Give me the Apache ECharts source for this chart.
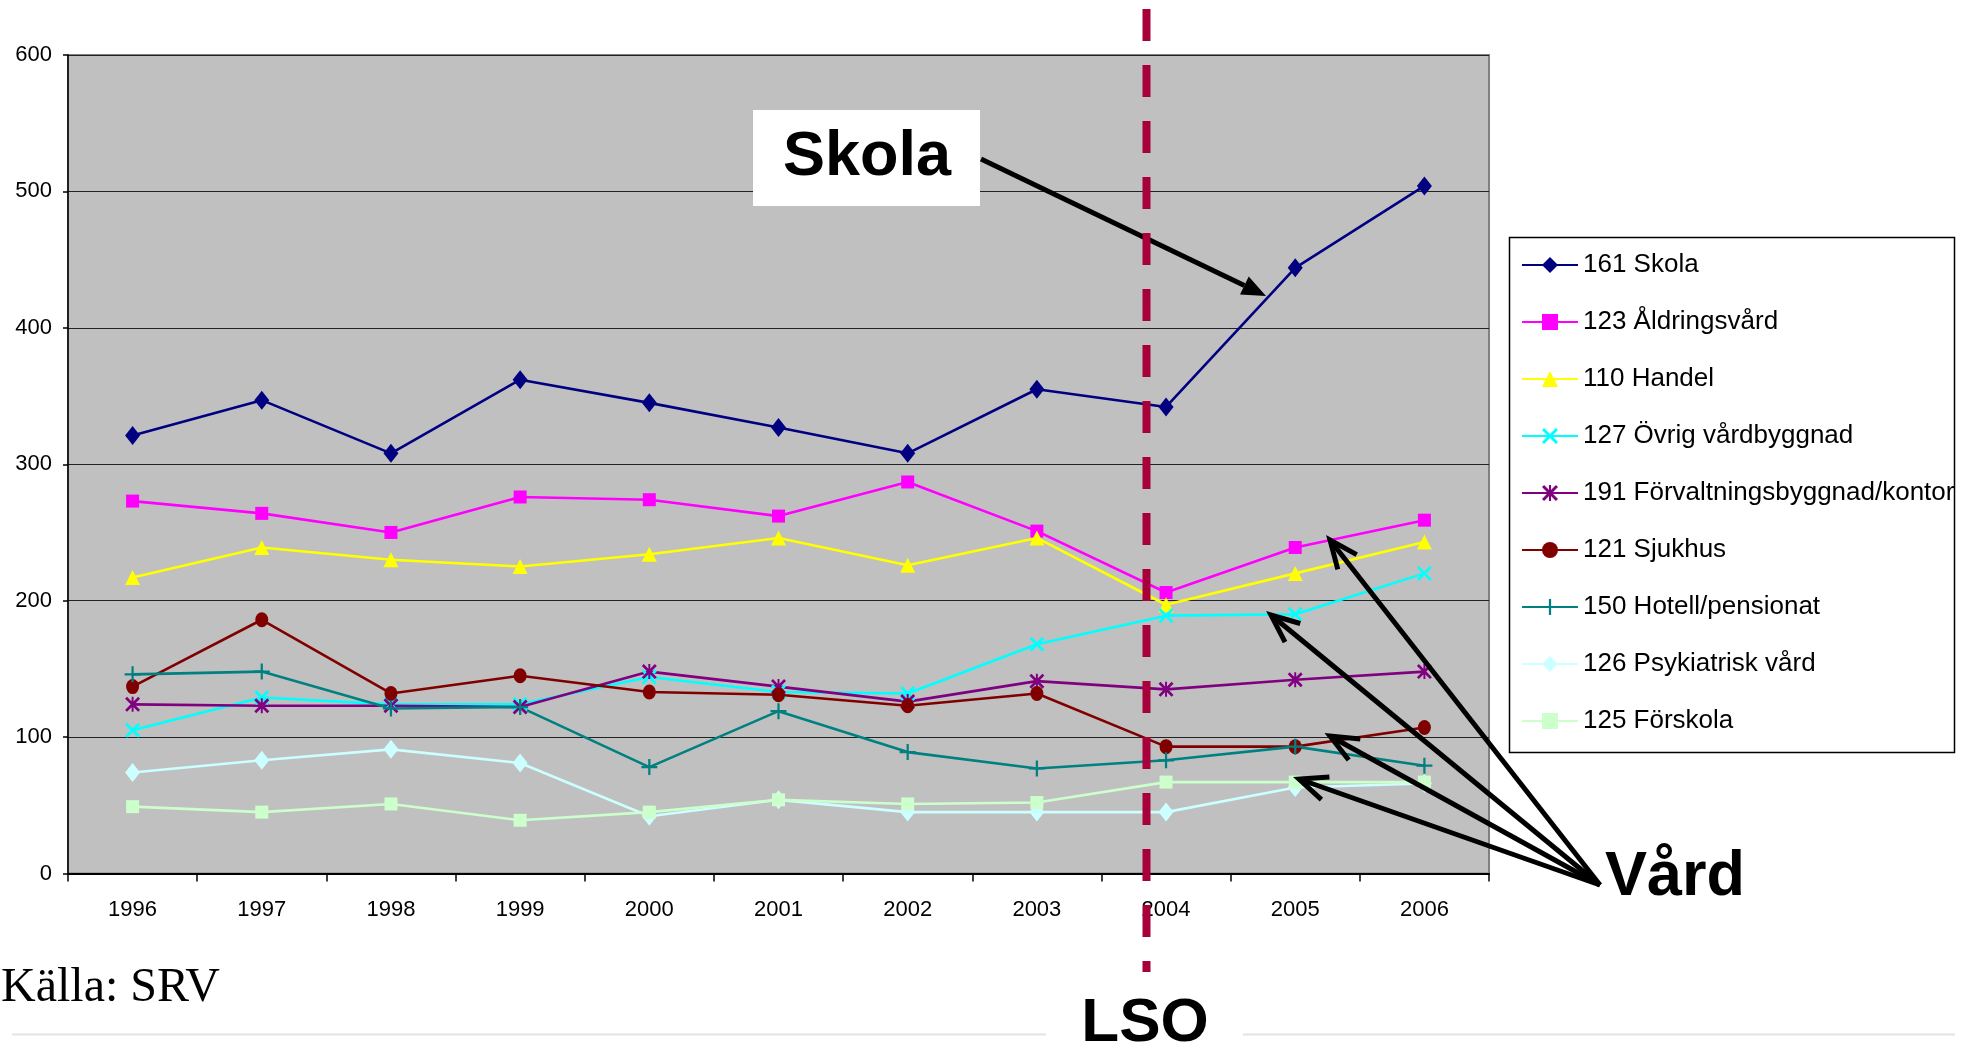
<!DOCTYPE html>
<html>
<head>
<meta charset="utf-8">
<title>Brandutveckling per byggnadstyp</title>
<script src="https://cdn.jsdelivr.net/npm/echarts@6/dist/echarts.min.js"></script>
<style>
  html, body { margin: 0; padding: 0; background: #fff; }
  #chart { width: 1962px; height: 1048px; }
</style>
</head>
<body>
<div id="chart"></div>
<script>
// Years on the x axis
var years = ['1996', '1997', '1998', '1999', '2000', '2001', '2002', '2003', '2004', '2005', '2006'];

// Values, one array per building type
var skola       = [321, 347, 308, 362, 345, 327, 308, 355, 342, 444, 504];
var aldringsvard = [273, 264, 250, 276, 274, 262, 287, 251, 206, 239, 259];
var handel      = [217, 239, 230, 225, 234, 246, 226, 246, 197, 220, 243];
var ovrigVard   = [105, 129, 124, 124, 144, 133, 132, 168, 189, 190, 220];
var forvaltning = [124, 123, 123, 122, 148, 137, 126, 141, 135, 142, 148];
var sjukhus     = [137, 186, 132, 145, 133, 131, 123, 132, 93, 93, 107];
var hotell      = [146, 148, 121, 122, 78, 119, 89, 77, 83, 93, 79];
var psykiatrisk = [74, 83, 91, 81, 42, 54, 45, 45, 45, 63, 66];
var forskola    = [49, 45, 51, 39, 45, 54, 51, 52, 67, 67, 67];

var seriesNames = [
    '161 Skola', '123 Åldringsvård', '110 Handel', '127 Övrig vårdbyggnad',
    '191 Förvaltningsbyggnad/kontor', '121 Sjukhus', '150 Hotell/pensionat',
    '126 Psykiatrisk vård', '125 Förskola'
];

var sans = "'Liberation Sans', Arial, sans-serif";

// marker shapes (Excel style)
var xMark = 'path://M0,1.3L1.3,0L5,3.7L8.7,0L10,1.3L6.3,5L10,8.7L8.7,10L5,6.3L1.3,10L0,8.7L3.7,5Z';
var plusMark = 'path://M4.3,0H5.7V4.3H10V5.7H5.7V10H4.3V5.7H0V4.3H4.3Z';
var starMark = 'path://M0,1.3L1.3,0L5,3.7L8.7,0L10,1.3L6.3,5L10,8.7L8.7,10L5,6.3L1.3,10L0,8.7L3.7,5Z' +
               'M4.35,0H5.65V10H4.35Z';

function makeSeries(name, data, color, symbol, size) {
    return {
        name: name,
        type: 'line',
        data: data,
        symbol: symbol,
        symbolSize: size,
        showSymbol: true,
        lineStyle: { color: color, width: 2.6 },
        itemStyle: { color: color, borderWidth: 0 },
        emphasis: { disabled: true },
        z: 3
    };
}

// arrow helper: shaft plus head, filled or open
function arrow(x1, y1, x2, y2, width, headLen, headHalf, filled) {
    var dx = x2 - x1, dy = y2 - y1;
    var len = Math.sqrt(dx * dx + dy * dy);
    var ux = dx / len, uy = dy / len;
    var px = -uy, py = ux;
    var bx = x2 - ux * headLen, by = y2 - uy * headLen;
    var a = [bx + px * headHalf, by + py * headHalf];
    var b = [bx - px * headHalf, by - py * headHalf];
    var els = [];
    els.push({
        type: 'line', z: 50,
        shape: { x1: x1, y1: y1, x2: filled ? bx : x2, y2: filled ? by : y2 },
        style: { stroke: '#000', lineWidth: width, lineCap: 'butt' }
    });
    if (filled) {
        els.push({
            type: 'polygon', z: 50,
            shape: { points: [[x2, y2], a, b] },
            style: { fill: '#000' }
        });
    } else {
        els.push({
            type: 'polyline', z: 50,
            shape: { points: [a, [x2, y2], b] },
            style: { stroke: '#000', lineWidth: width, lineJoin: 'miter', fill: null }
        });
    }
    return els;
}

var chart = echarts.init(document.getElementById('chart'));

var graphics = [
    // legend frame
    { type: 'rect', z: 1, shape: { x: 1509.5, y: 237.5, width: 445, height: 515 },
      style: { fill: '#fff', stroke: '#000', lineWidth: 1.5 } },
    // Skola label
    { type: 'rect', z: 40, shape: { x: 753, y: 110, width: 227, height: 96 },
      style: { fill: '#fff' } },
    { type: 'text', z: 41, x: 867, y: 158,
      style: { text: 'Skola', fontSize: 63, fontWeight: 'bold', fontFamily: sans, fill: '#000',
               align: 'center', verticalAlign: 'middle', textAlign: 'center', textVerticalAlign: 'middle' } },
    // Vård label
    { type: 'text', z: 41, x: 1605, y: 878,
      style: { text: 'Vård', fontSize: 63, fontWeight: 'bold', fontFamily: sans, fill: '#000',
               align: 'left', verticalAlign: 'middle', textAlign: 'left', textVerticalAlign: 'middle' } },
    // LSO label
    { type: 'text', z: 41, x: 1145, y: 1024,
      style: { text: 'LSO', fontSize: 62, fontWeight: 'bold', fontFamily: sans, fill: '#000',
               align: 'center', verticalAlign: 'middle', textAlign: 'center', textVerticalAlign: 'middle' } },
    // source
    { type: 'text', z: 41, x: 1, y: 988,
      style: { text: 'Källa: SRV', fontSize: 48, fontFamily: "'Liberation Serif', 'Times New Roman', serif", fill: '#000',
               align: 'left', verticalAlign: 'middle', textAlign: 'left', textVerticalAlign: 'middle' } },
    // faint slide rules at the bottom
    { type: 'line', z: 1, shape: { x1: 12, y1: 1034.5, x2: 1046, y2: 1034.5 },
      style: { stroke: '#e3e3e3', lineWidth: 2 } },
    { type: 'line', z: 1, shape: { x1: 1243, y1: 1034.5, x2: 1955, y2: 1034.5 },
      style: { stroke: '#e3e3e3', lineWidth: 2 } },
    // LSO dashed divider
    { type: 'line', z: 60, shape: { x1: 1146.5, y1: 9, x2: 1146.5, y2: 972 },
      style: { stroke: '#a8003a', lineWidth: 8, lineDash: [32, 24] } }
];

graphics = graphics.concat(arrow(981, 159, 1266, 296, 5, 24, 10, true));
graphics = graphics.concat(arrow(1600, 885, 1330, 540, 5, 28, 12, false));
graphics = graphics.concat(arrow(1600, 885, 1271, 615, 5, 28, 12, false));
graphics = graphics.concat(arrow(1600, 885, 1330, 736, 5, 28, 12, false));
graphics = graphics.concat(arrow(1600, 885, 1299, 779, 5, 28, 12, false));

var option = {
    animation: false,
    backgroundColor: '#fff',
    grid: {
        left: 68, top: 55, right: 473, bottom: 174.5,
        show: true,
        backgroundColor: '#c0c0c0',
        borderColor: '#808080',
        borderWidth: 2
    },
    legend: {
        orient: 'vertical',
        left: 1521,
        top: 252,
        padding: 0,
        itemGap: 31,
        itemWidth: 56,
        itemHeight: 20,
        z: 5,
        data: seriesNames,
        textStyle: { fontSize: 26, fontFamily: sans, color: '#000', lineHeight: 26 }
    },
    xAxis: {
        type: 'category',
        data: years,
        boundaryGap: true,
        axisLine: { show: true, lineStyle: { color: '#000', width: 2 } },
        axisTick: { show: true, alignWithLabel: false, length: 8, lineStyle: { color: '#000', width: 1.5 } },
        axisLabel: { color: '#000', fontSize: 22, fontFamily: sans, margin: 25 },
        splitLine: { show: false }
    },
    yAxis: {
        type: 'value',
        min: 0,
        max: 600,
        interval: 100,
        axisLine: { show: true, lineStyle: { color: '#000', width: 1.5 } },
        axisTick: { show: true, length: 5, lineStyle: { color: '#000', width: 1.5 } },
        axisLabel: { color: '#000', fontSize: 22, fontFamily: sans, margin: 16 },
        splitLine: { show: true, lineStyle: { color: '#222', width: 1.2 } }
    },
    graphic: graphics,
    series: [
        makeSeries(seriesNames[0], skola, '#000080', 'diamond', [15, 19]),
        makeSeries(seriesNames[1], aldringsvard, '#ff00ff', 'rect', 13),
        makeSeries(seriesNames[2], handel, '#ffff00', 'triangle', [15, 15]),
        makeSeries(seriesNames[3], ovrigVard, '#00ffff', xMark, 15),
        makeSeries(seriesNames[4], forvaltning, '#800080', starMark, 15),
        makeSeries(seriesNames[5], sjukhus, '#800000', 'circle', [13, 15]),
        makeSeries(seriesNames[6], hotell, '#008080', plusMark, 16),
        makeSeries(seriesNames[7], psykiatrisk, '#ccffff', 'diamond', [15, 19]),
        makeSeries(seriesNames[8], forskola, '#ccffcc', 'rect', 13)
    ]
};

chart.setOption(option);
</script>
</body>
</html>
